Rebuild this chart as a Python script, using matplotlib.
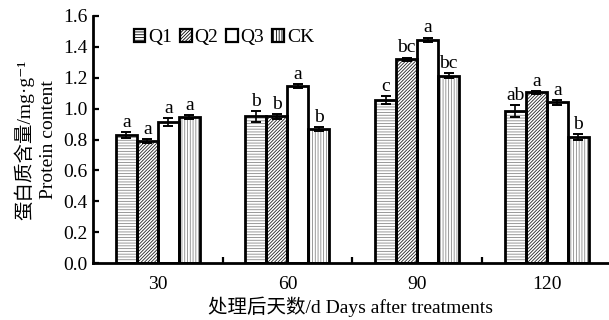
import matplotlib.pyplot as plt
import numpy as np

plt.rcParams['font.family'] = ['Liberation Serif', 'Noto Sans CJK SC', 'DejaVu Serif']

days = ['30', '60', '90', '120']
groups = ['Q1', 'Q2', 'Q3', 'CK']
q1 = [0.83, 0.95, 1.055, 0.985]
q2 = [0.79, 0.95, 1.32, 1.105]
q3 = [0.915, 1.145, 1.445, 1.04]
ck = [0.945, 0.868, 1.213, 0.815]
q1_err = [0.02, 0.035, 0.025, 0.04]
q2_err = [0.015, 0.015, 0.01, 0.01]
q3_err = [0.025, 0.012, 0.015, 0.015]
ck_err = [0.012, 0.01, 0.015, 0.02]
q1_sig = ['a', 'b', 'c', 'ab']
q2_sig = ['a', 'b', 'bc', 'a']
q3_sig = ['a', 'a', 'a', 'a']
ck_sig = ['a', 'b', 'bc', 'b']

values = [q1, q2, q3, ck]
errors = [q1_err, q2_err, q3_err, ck_err]
sigs = [q1_sig, q2_sig, q3_sig, ck_sig]
hatches = ['------', '//////////', '', '||||||']
hatch_cols = ['#888888', '#222222', 'white', '#888888']

fig = plt.figure(figsize=(6.09, 3.2), dpi=100)
ax = fig.add_axes([93/609, 0.178, 516/609, 0.772])

x = np.arange(len(days))
w = 0.162
plt.rcParams['hatch.linewidth'] = 0.6
handles = []
for i in range(4):
    pos = x + (i - 1.5) * w
    ax.bar(pos, values[i], w, color='white', edgecolor=hatch_cols[i],
           hatch=hatches[i], linewidth=0, zorder=2)
    ax.bar(pos, values[i], w, color='none', edgecolor='black',
           linewidth=2.0, zorder=3)
    ax.errorbar(pos, values[i], yerr=errors[i], fmt='none', ecolor='black',
                elinewidth=1.2, capsize=3.5, capthick=1.4, zorder=4)
    for p, v, e, s in zip(pos, values[i], errors[i], sigs[i]):
        ax.text(p, v + e + 0.008, s, ha='center', va='bottom', fontsize=14)
    h = plt.Rectangle((0, 0), 1, 1, facecolor='white', edgecolor='black',
                      hatch=hatches[i], linewidth=1.6)
    handles.append(h)

ax.legend(handles, groups, loc='upper left', bbox_to_anchor=(0.06, 0.985),
          ncol=4, frameon=False, fontsize=14, handlelength=0.6,
          handleheight=0.6, handletextpad=0.15, columnspacing=0.4,
          borderaxespad=0.1)

ax.set_ylim(0, 1.6)
ax.set_yticks(np.arange(0, 1.61, 0.2))
ax.set_yticklabels(['%.1f' % v for v in np.arange(0, 1.61, 0.2)], fontsize=14)
ax.set_xlim(-0.5, 3.48)
ax.set_xticks(x)
ax.set_xticklabels(days, fontsize=14)
ax.set_xticks([0.5, 1.5, 2.5], minor=True)
ax.tick_params(axis='x', which='major', length=0, pad=9)
ax.tick_params(axis='x', which='minor', direction='in', length=4, width=1.6)
ax.tick_params(axis='y', direction='in', length=4, width=1.6, pad=4)

for s in ['top', 'right']:
    ax.spines[s].set_visible(False)
ax.spines['left'].set_linewidth(2.0)
ax.spines['bottom'].set_linewidth(2.0)

ax.set_xlabel('处理后天数/d Days after treatments', fontsize=14, labelpad=3)
ax.set_ylabel('蛋白质含量/mg·g⁻¹\nProtein content', fontsize=14,
              linespacing=1.45, labelpad=4)

fig.savefig('out.png', dpi=100)
